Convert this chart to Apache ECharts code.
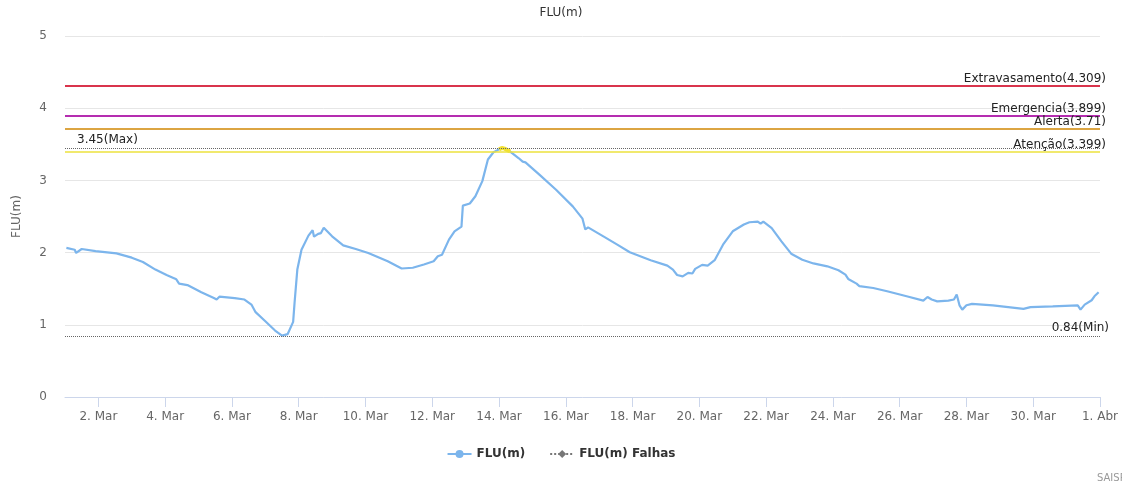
<!DOCTYPE html>
<html>
<head>
<meta charset="utf-8">
<script src="https://cdn.jsdelivr.net/npm/echarts@6/dist/echarts.min.js"></script>
<style>
html,body{margin:0;padding:0;background:#fff;}
#chart{width:1122px;height:492px;}
</style>
</head>
<body>
<div id="chart"></div>
<script>
// ---- data ----
const times = [
 '2020-03-01 01:00','2020-03-01 07:00','2020-03-01 08:00','2020-03-01 12:00','2020-03-01 22:00',
 '2020-03-02 13:00','2020-03-03 00:00','2020-03-03 08:00','2020-03-03 17:00','2020-03-04 01:00',
 '2020-03-04 08:00','2020-03-04 10:00','2020-03-04 16:00','2020-03-05 02:00','2020-03-05 11:00',
 '2020-03-05 13:00','2020-03-05 15:00','2020-03-06 02:00','2020-03-06 09:00','2020-03-06 14:00',
 '2020-03-06 17:00','2020-03-07 00:00','2020-03-07 07:00','2020-03-07 12:00','2020-03-07 13:00',
 '2020-03-07 16:00','2020-03-07 20:00','2020-03-07 21:00','2020-03-07 23:00','2020-03-08 02:00',
 '2020-03-08 07:00','2020-03-08 10:00','2020-03-08 11:00','2020-03-08 14:00','2020-03-08 16:00',
 '2020-03-08 18:00','2020-03-09 00:00','2020-03-09 08:00','2020-03-09 17:00','2020-03-10 02:00',
 '2020-03-10 16:00','2020-03-11 02:00','2020-03-11 10:00','2020-03-11 18:00','2020-03-12 01:00',
 '2020-03-12 04:00','2020-03-12 07:00','2020-03-12 12:00','2020-03-12 16:00','2020-03-12 21:00',
 '2020-03-12 22:00','2020-03-13 03:00','2020-03-13 07:00','2020-03-13 12:00','2020-03-13 16:00',
 '2020-03-13 20:00','2020-03-14 00:00','2020-03-14 02:00','2020-03-14 04:00','2020-03-14 08:00',
 '2020-03-14 14:00','2020-03-14 17:00','2020-03-14 19:00','2020-03-15 05:00','2020-03-15 17:00',
 '2020-03-16 05:00','2020-03-16 12:00','2020-03-16 14:00','2020-03-16 16:00','2020-03-17 03:00',
 '2020-03-17 13:00','2020-03-17 22:00','2020-03-18 13:00','2020-03-19 01:00','2020-03-19 05:00',
 '2020-03-19 08:00','2020-03-19 12:00','2020-03-19 16:00','2020-03-19 19:00','2020-03-19 21:00',
 '2020-03-20 02:00','2020-03-20 06:00','2020-03-20 11:00','2020-03-20 17:00','2020-03-21 00:00',
 '2020-03-21 08:00','2020-03-21 12:00','2020-03-21 18:00','2020-03-21 20:00','2020-03-21 22:00',
 '2020-03-22 04:00','2020-03-22 11:00','2020-03-22 18:00','2020-03-23 02:00','2020-03-23 10:00',
 '2020-03-23 20:00','2020-03-24 04:00','2020-03-24 09:00','2020-03-24 11:00','2020-03-24 17:00',
 '2020-03-24 19:00','2020-03-25 05:00','2020-03-25 15:00','2020-03-26 05:00','2020-03-26 17:00',
 '2020-03-26 18:00','2020-03-26 20:00','2020-03-26 23:00','2020-03-27 03:00','2020-03-27 11:00',
 '2020-03-27 15:00','2020-03-27 17:00','2020-03-27 18:00','2020-03-27 19:00','2020-03-27 21:00',
 '2020-03-28 00:00','2020-03-28 04:00','2020-03-28 19:00','2020-03-29 17:00','2020-03-29 22:00',
 '2020-03-30 14:00','2020-03-31 08:00','2020-03-31 10:00','2020-03-31 13:00','2020-03-31 18:00',
 '2020-03-31 20:00','2020-03-31 23:00'
];
const fluValues = [
 2.065,2.04,1.995,2.05,2.02,
 1.99,1.93,1.87,1.765,1.69,
 1.63,1.57,1.55,1.45,1.37,
 1.35,1.39,1.37,1.35,1.28,
 1.175,1.05,0.92,0.85,0.84,
 0.87,1.04,1.30,1.765,2.04,
 2.235,2.31,2.22,2.26,2.27,
 2.345,2.225,2.10,2.05,1.995,
 1.88,1.78,1.79,1.835,1.88,
 1.95,1.97,2.18,2.295,2.36,
 2.65,2.68,2.78,2.99,3.29,
 3.39,3.43,3.45,3.44,3.40,
 3.31,3.26,3.25,3.08,2.87,
 2.64,2.47,2.32,2.35,2.225,
 2.11,2.005,1.895,1.82,1.765,
 1.69,1.67,1.72,1.71,1.775,
 1.83,1.82,1.895,2.11,2.295,
 2.39,2.42,2.43,2.40,2.43,
 2.34,2.155,1.985,1.90,1.85,
 1.81,1.755,1.695,1.635,1.57,
 1.535,1.51,1.465,1.395,1.335,
 1.31,1.385,1.35,1.325,1.335,
 1.35,1.42,1.395,1.27,1.21,
 1.27,1.29,1.27,1.22,1.245,
 1.255,1.27,1.21,1.28,1.34,
 1.395,1.45
];
const falhasValues = [];
const thresholdNames = ['Extravasamento','Emergencia','Alerta','Atenção'];
const thresholdValues = [4.309, 3.899, 3.71, 3.399];
const xTickDates = ['2020-03-02','2020-03-04','2020-03-06','2020-03-08','2020-03-10','2020-03-12',
 '2020-03-14','2020-03-16','2020-03-18','2020-03-20','2020-03-22','2020-03-24','2020-03-26',
 '2020-03-28','2020-03-30','2020-04-01'];
const xTickLabels = ['2. Mar','4. Mar','6. Mar','8. Mar','10. Mar','12. Mar','14. Mar','16. Mar',
 '18. Mar','20. Mar','22. Mar','24. Mar','26. Mar','28. Mar','30. Mar','1. Abr'];
const xMin = '2020-03-01 00:00';
const xMax = '2020-04-01 00:00';

// ---- styles ----
const thresholdColors = ['#d9344c', '#b52db0', '#dca542', '#ece23c'];
const thresholdWidths = [2, 2, 2, 1.5];
const FONT = 'DejaVu Sans';

const parseT = s => Date.UTC(+s.slice(0,4), +s.slice(5,7) - 1, +s.slice(8,10), +s.slice(11,13) || 0);
const tickTs = xTickDates.map(d => parseT(d + ' 00:00'));

const seriesData = times.map((t, i) => [parseT(t), fluValues[i]]);
// segment above the "Atenção" level, drawn in yellow on top
const aboveData = times.map((t, i) => [parseT(t), fluValues[i] > thresholdValues[3] ? fluValues[i] : null]);

const markData = thresholdNames.map((n, i) => ({
  yAxis: thresholdValues[i],
  lineStyle: { color: thresholdColors[i], width: thresholdWidths[i], type: 'solid' },
  label: {
    show: true, position: 'insideEndTop', distance: [-6, 1],
    formatter: n + '(' + thresholdValues[i] + ')',
    color: '#222', fontSize: 12, fontFamily: FONT
  }
}));
markData.push({
  type: 'max', name: 'Max',
  lineStyle: { color: '#666', width: 1, type: 'dotted' },
  label: { show: true, position: 'insideStartTop', distance: [12, 2],
    formatter: p => p.value + '(Max)', color: '#222', fontSize: 12, fontFamily: FONT }
});
markData.push({
  type: 'min', name: 'Min',
  lineStyle: { color: '#666', width: 1, type: 'dotted' },
  label: { show: true, position: 'insideEndTop', distance: [-9, 2],
    formatter: p => p.value + '(Min)', color: '#222', fontSize: 12, fontFamily: FONT }
});

const chart = echarts.init(document.getElementById('chart'), null, { renderer: 'canvas' });
const option = {
  animation: false,
  textStyle: { fontFamily: FONT },
  title: {
    text: 'FLU(m)', left: 'center', top: 2,
    textStyle: { fontSize: 12, fontWeight: 'normal', color: '#333', fontFamily: FONT }
  },
  grid: { left: 65, right: 22, top: 36, bottom: 95, containLabel: false },
  legend: {
    bottom: 27, left: 'center', itemWidth: 24, itemHeight: 10, itemGap: 24,
    textStyle: { fontSize: 12, fontWeight: 'bold', color: '#333', fontFamily: FONT },
    data: ['FLU(m)', 'FLU(m) Falhas']
  },
  xAxis: {
    type: 'value', min: parseT(xMin), max: parseT(xMax),
    splitLine: { show: false },
    axisLine: { lineStyle: { color: '#ccd6eb' } },
    axisTick: { show: true, length: 10, lineStyle: { color: '#ccd6eb' }, customValues: tickTs },
    axisLabel: {
      customValues: tickTs, color: '#666', fontSize: 12, fontFamily: FONT, margin: 14,
      formatter: v => { const i = tickTs.indexOf(v); return i >= 0 ? xTickLabels[i] : ''; }
    }
  },
  yAxis: {
    type: 'value', min: 0, max: 5, interval: 1,
    name: 'FLU(m)', nameLocation: 'middle', nameGap: 42, nameRotate: 90,
    nameTextStyle: { color: '#666', fontSize: 12, fontFamily: FONT },
    axisLine: { show: false }, axisTick: { show: false },
    axisLabel: { color: '#666', fontSize: 12, margin: 18, fontFamily: FONT },
    splitLine: { lineStyle: { color: '#e6e6e6', width: 1 } }
  },
  series: [
    {
      name: 'FLU(m)', type: 'line', data: seriesData,
      showSymbol: false, symbol: 'circle', symbolSize: 8,
      itemStyle: { color: '#7cb5ec' },
      lineStyle: { width: 2.2, color: '#7cb5ec' },
      markLine: { silent: true, symbol: ['none', 'none'], data: markData }
    },
    {
      name: 'FLU(m) Falhas', type: 'line', data: falhasValues,
      symbol: 'diamond', symbolSize: 9,
      itemStyle: { color: '#777' },
      lineStyle: { width: 2, type: 'dotted', color: '#777' }
    },
    {
      name: 'acima', type: 'line', data: aboveData, connectNulls: false,
      showSymbol: false, silent: true, z: 3,
      itemStyle: { color: '#f2e12e' },
      lineStyle: { width: 4, color: '#f2e12e' }
    }
  ],
  graphic: [{
    type: 'text', left: 1097, top: 473,
    style: { text: 'SAISP', fill: '#999', font: '10px ' + FONT }
  }]
};
chart.setOption(option);
</script>
</body>
</html>
